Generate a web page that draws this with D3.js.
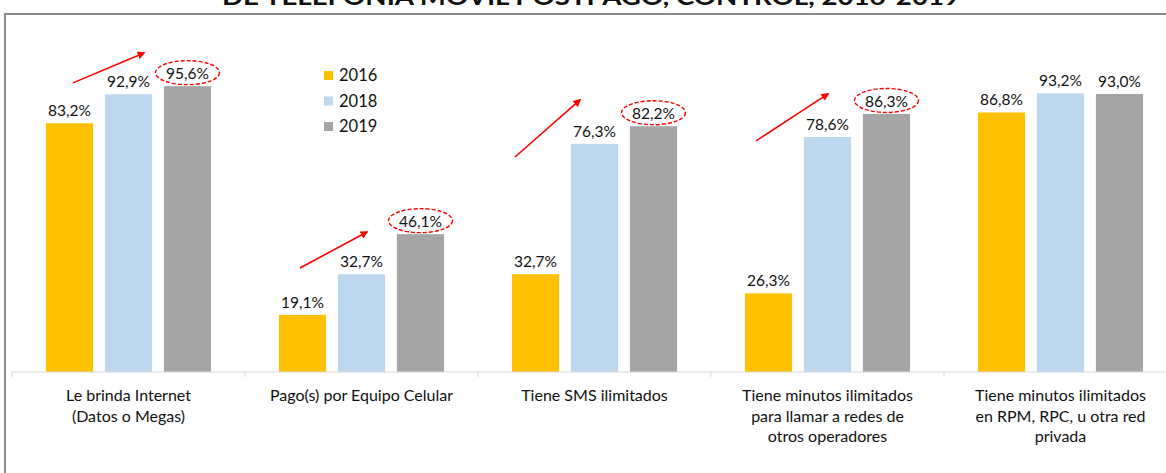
<!DOCTYPE html>
<html>
<head>
<meta charset="utf-8">
<script src="https://cdn.jsdelivr.net/npm/d3@7"></script>
<style>
  html, body { margin: 0; padding: 0; background: #fff; }
  svg { display: block; font-family: Lato, "Open Sans", sans-serif; }
</style>
</head>
<body>
<div id="chart"></div>
<script>
// data
const categories = [
  ["Le brinda Internet", "(Datos o Megas)"],
  ["Pago(s) por Equipo Celular"],
  ["Tiene SMS ilimitados"],
  ["Tiene minutos ilimitados", "para llamar a redes de", "otros operadores"],
  ["Tiene minutos ilimitados", "en RPM, RPC, u otra red", "privada"]
];
const years = ["2016", "2018", "2019"];
const values2016 = [83.2, 19.1, 32.7, 26.3, 86.8];
const values2018 = [92.9, 32.7, 76.3, 78.6, 93.2];
const values2019 = [95.6, 46.1, 82.2, 86.3, 93.0];
const highlighted = [0, 1, 2, 3]; // 2019 labels circled in red
// red arrows: [category, dx start, value start, dx end, value end]
const arrows = [
  [0, 61, 96.7, 132, 106.7],
  [1, 55, 34.8, 122, 46.8],
  [2, 37, 71.9, 102, 91.0],
  [3, 45, 77.3, 117, 93.0]
];
const titleText = "DE TELEFONÍA MÓVIL POSTPAGO, CONTROL, 2016-2019";

const W = 1166, H = 473;
const colors = { "2016": "#FFC000", "2018": "#BDD7EE", "2019": "#A5A5A5" };
const series = { "2016": values2016, "2018": values2018, "2019": values2019 };

const svg = d3.select("#chart").append("svg")
  .attr("width", W).attr("height", H);

// frame
svg.append("rect")
  .attr("x", 5).attr("y", 14)
  .attr("width", W + 20).attr("height", H)
  .attr("fill", "none")
  .attr("stroke", "#8c8c8c")
  .attr("stroke-width", 2);

// title, cut off at the top edge as in the original
svg.append("text")
  .attr("x", 591).attr("y", 5)
  .attr("text-anchor", "middle")
  .attr("font-weight", "bold")
  .attr("font-size", 22)
  .attr("textLength", 738)
  .attr("lengthAdjust", "spacingAndGlyphs")
  .attr("fill", "#111")
  .text(titleText);

const x = d3.scaleBand()
  .domain(d3.range(categories.length))
  .range([12, 12 + 233 * categories.length]);

const xInner = d3.scaleBand()
  .domain(years)
  .range([0, x.bandwidth()])
  .paddingInner(0.2)
  .paddingOuter(0.575);

const y = d3.scaleLinear().domain([0, 100]).range([372, 73]);

const fmt = v => d3.format(".1f")(v).replace(".", ",") + "%";

// bars
const groups = svg.append("g").selectAll("g")
  .data(categories.map((c, i) => i))
  .join("g")
  .attr("transform", i => `translate(${x(i)},0)`);

groups.selectAll("rect")
  .data(i => years.map(yr => ({ yr, v: series[yr][i] })))
  .join("rect")
  .attr("x", d => xInner(d.yr))
  .attr("y", d => y(d.v))
  .attr("width", xInner.bandwidth())
  .attr("height", d => y(0) - y(d.v))
  .attr("fill", d => colors[d.yr]);

groups.selectAll("text.val")
  .data(i => years.map(yr => ({ yr, v: series[yr][i] })))
  .join("text")
  .attr("class", "val")
  .attr("x", d => xInner(d.yr) + xInner.bandwidth() / 2)
  .attr("y", d => y(d.v) - 7)
  .attr("text-anchor", "middle")
  .attr("font-size", 15.5)
  .attr("fill", "#111")
  .text(d => fmt(d.v));

// dashed ellipses round highlighted 2019 labels
svg.append("g").selectAll("ellipse")
  .data(highlighted)
  .join("ellipse")
  .attr("cx", i => x(i) + xInner("2019") + xInner.bandwidth() / 2)
  .attr("cy", i => y(values2019[i]) - 13.5)
  .attr("rx", 32)
  .attr("ry", 12)
  .attr("fill", "none")
  .attr("stroke", "#ff0000")
  .attr("stroke-width", 1.4)
  .attr("stroke-dasharray", "4,2");

// arrows
svg.append("defs").append("marker")
  .attr("id", "head")
  .attr("viewBox", "0 0 10 10")
  .attr("refX", 8).attr("refY", 5)
  .attr("markerWidth", 5).attr("markerHeight", 5)
  .attr("orient", "auto")
  .append("path")
  .attr("d", "M0,0L10,5L0,10z")
  .attr("fill", "#ff0000");

svg.append("g").selectAll("line")
  .data(arrows)
  .join("line")
  .attr("x1", d => x(d[0]) + d[1])
  .attr("y1", d => y(d[2]))
  .attr("x2", d => x(d[0]) + d[3])
  .attr("y2", d => y(d[4]))
  .attr("stroke", "#ff0000")
  .attr("stroke-width", 1.6)
  .attr("marker-end", "url(#head)");

// x axis
const axis = svg.append("g");
axis.append("line")
  .attr("x1", x.range()[0]).attr("x2", W)
  .attr("y1", y(0)).attr("y2", y(0))
  .attr("stroke", "#d9d9d9").attr("stroke-width", 1);

axis.selectAll("line.tick")
  .data(d3.range(categories.length + 1))
  .join("line")
  .attr("class", "tick")
  .attr("x1", i => x.range()[0] + i * x.step())
  .attr("x2", i => x.range()[0] + i * x.step())
  .attr("y1", y(0)).attr("y2", y(0) + 5)
  .attr("stroke", "#d9d9d9");

const labels = axis.selectAll("text.cat")
  .data(categories)
  .join("text")
  .attr("class", "cat")
  .attr("text-anchor", "middle")
  .attr("font-size", 16)
  .attr("fill", "#111");

labels.selectAll("tspan")
  .data((d, i) => d.map((line, k) => ({ line, k, i })))
  .join("tspan")
  .attr("x", d => x(d.i) + x.bandwidth() / 2)
  .attr("y", d => 401 + d.k * 20.5)
  .text(d => d.line);

// legend
const legend = svg.append("g").attr("transform", "translate(324,71)");
legend.selectAll("rect")
  .data(years)
  .join("rect")
  .attr("x", 0)
  .attr("y", (d, i) => i * 25.5)
  .attr("width", 9).attr("height", 9)
  .attr("fill", d => colors[d]);
legend.selectAll("text")
  .data(years)
  .join("text")
  .attr("x", 15)
  .attr("y", (d, i) => i * 25.5 + 10)
  .attr("font-size", 16.5)
  .attr("fill", "#111")
  .text(d => d);
</script>
</body>
</html>
